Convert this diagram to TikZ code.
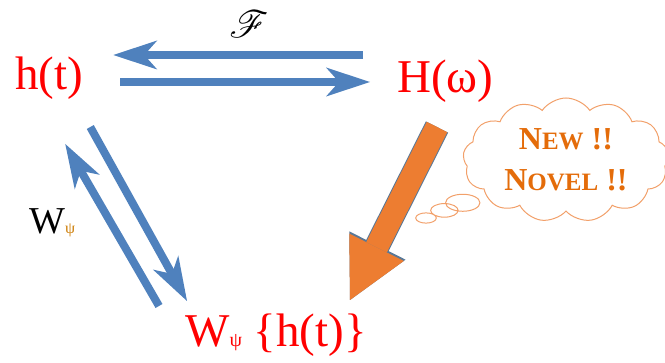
\documentclass[tikz,border=0pt]{standalone}
\usepackage{fontspec}
\setmainfont{Liberation Serif}
\newfontfamily\timesfont{Liberation Serif}
\usepackage{mathrsfs}
\usepackage{tikz}
\usetikzlibrary{calc}
\usetikzlibrary{positioning}
\usetikzlibrary{arrows.meta}
\usetikzlibrary{shapes.callouts}

\definecolor{arrowblue}{RGB}{79,129,189}
\definecolor{novelorange}{RGB}{237,125,49}
\definecolor{noveltext}{RGB}{228,108,10}
\definecolor{cloudline}{RGB}{242,160,106}
\definecolor{blockedge}{RGB}{90,120,150}
\definecolor{psigold}{RGB}{204,122,0}

\begin{document}
\begin{tikzpicture}[x=1pt, y=-1pt,
    bigtext/.style={text=red, inner sep=0pt, anchor=base west, font=\timesfont\fontsize{47}{50}\selectfont},
    flow/.style={draw=arrowblue, line width=8pt, -{Stealth[length=44pt, width=29pt, inset=13pt, line width=0pt]}}]
    \useasboundingbox (0,0) rectangle (665,363);

    \node [bigtext] (ht) at (15,90) {h(t)};
    \node [bigtext] (Hw) at (397,93) {H(ω)};
    \node [bigtext] (Wh) at (185,347) {W{\fontsize{20}{20}\selectfont ψ} \{h(t)\}};
    \node [scale=3.8] (fourier) at (249,24) {$\mathscr{F}$};
    \node [anchor=base west, inner sep=0pt, font=\timesfont\fontsize{38}{40}\selectfont] (wpsi) at (29,234) {W{\fontsize{16}{16}\selectfont\color{psigold}ψ}};

    % Fourier pair
    \draw [flow] ($(Hw.base west)+(-34,-38)$) -- ($(ht.base east)+(30,-35)$);
    \draw [flow] ($(ht.base east)+(37,-8)$) -- ($(Hw.base west)+(-27,-11)$);
    % wavelet pair
    \draw [flow] ($(ht.base east)+(7,37)$) -- ($(Wh.base west)+(2,-46)$);
    \draw [flow] ($(Wh.base west)+(-26,-41)$) -- ($(ht.base east)+(-18,54)$);

    % the new one
    \draw [line width=25pt, draw=blockedge, -{Triangle[length=61pt, width=63pt, line width=0pt]}] ($(Hw.base west)+(40,34)$) -- ($(Wh.base west)+(165,-47)$);
    \draw [line width=23pt, draw=novelorange, -{Triangle[length=59pt, width=61pt, line width=0pt]}] ($(Hw.base west)+(40,34)$) -- ($(Wh.base west)+(165,-47)$);

    \node [cloud callout, cloud ignores aspect, draw=cloudline, fill=white, line width=1pt, cloud puffs=13, cloud puff arc=110,
        minimum width=206pt, minimum height=124pt, callout absolute pointer={(426,218)}, callout pointer segments=3,
        align=center, text=noveltext, font=\timesfont\bfseries\fontsize{32}{41}\selectfont] (novel) at (566,160)
        {N{\fontsize{25}{41}\selectfont EW} !!\\N{\fontsize{25}{41}\selectfont OVEL} !!};
\end{tikzpicture}
\end{document}
